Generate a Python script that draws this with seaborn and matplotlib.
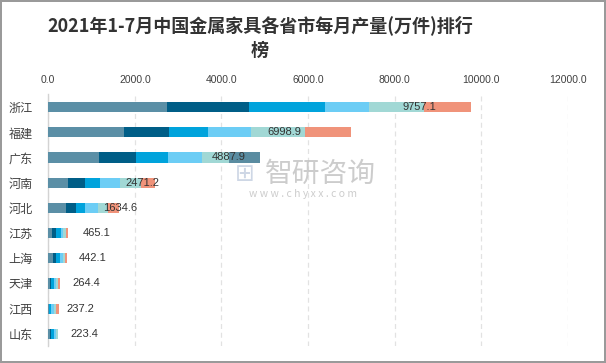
import numpy as np
import pandas as pd
import matplotlib
matplotlib.use("Agg")
import matplotlib.pyplot as plt
import seaborn as sns

# ---------------- data ----------------
provinces = ["浙江", "福建", "广东", "河南", "河北", "江苏", "上海", "天津", "江西", "山东"]
series_names = ["1-2月", "3月", "4月", "5月", "6月", "7月", "其他"]
s1 = [2732, 1740, 1170, 455, 408, 95, 108, 30, 8, 30]
s2 = [1900, 1046, 854, 392, 224, 90, 69, 38, 15, 38]
s3 = [1754, 892, 738, 346, 215, 100, 85, 54, 45, 55]
s4 = [1015, 1000, 778, 462, 300, 65, 77, 46, 55, 45]
s5 = [1270, 1262, 637, 485, 231, 48, 54, 46, 54, 55.4]
s6 = [1086.1, 1058.9, 0, 331.2, 256.6, 67.1, 49.1, 50.4, 60.2, 0]
s7 = [0, 0, 710.9, 0, 0, 0, 0, 0, 0, 0]
totals = [9757.1, 6998.9, 4887.9, 2471.2, 1634.6, 465.1, 442.1, 264.4, 237.2, 223.4]
label_x = [8570, 5440, 4170, 2163, 1670, 1108, 1016, 877, 747, 835]
xticks = [0, 2000, 4000, 6000, 8000, 10000, 12000]
title = "2021年1-7月中国金属家具各省市每月产量(万件)排行\n榜"

colors = ["#5B8FA6", "#005E87", "#00A3DC", "#6CCDF5", "#A1D8D5", "#F0937A", "#5A8CA1"]

# ---------------- figure ----------------
sns.set_style("white")
plt.rcParams["font.family"] = ["Noto Sans CJK SC", "DejaVu Sans"]

fig = plt.figure(figsize=(6.06, 3.63), dpi=100, edgecolor="#9A9A9A", linewidth=1.5)
ax = fig.add_axes([0.0797, 0.0455, 0.8573, 0.6942])

series = [s1, s2, s3, s4, s5, s6, s7]
cum = np.cumsum(np.array(series, dtype=float), axis=0)
df = pd.DataFrame({"省份": provinces})
for k in range(len(series) - 1, -1, -1):
    df["v"] = cum[k]
    sns.barplot(data=df, y="省份", x="v", orient="h", color=colors[k],
                width=0.4, saturation=1, ax=ax, order=provinces, zorder=3,
                linewidth=0, edgecolor="none")

for i, (lx, t) in enumerate(zip(label_x, totals)):
    ax.text(lx, i, f"{t:.1f}", ha="center", va="center", fontsize=8,
            color="#333333", family=["Liberation Sans", "DejaVu Sans"], zorder=5)

ax.set_xlim(0, 12000)
ax.set_ylim(len(provinces) - 0.5, -0.5)
ax.xaxis.tick_top()
ax.set_xticks(xticks)
ax.set_xticklabels([f"{v:.1f}" for v in xticks], family=["Liberation Sans", "DejaVu Sans"],
                   fontsize=7.5, color="#404040")
ax.tick_params(axis="x", length=0, pad=7)
ax.tick_params(axis="y", length=0, pad=11, labelsize=8.7, labelcolor="#404040")
ax.set_xlabel("")
ax.set_ylabel("")
ax.grid(axis="x", color="#E2E2E2", linestyle=(0, (4, 3)), linewidth=0.9, zorder=0)
ax.set_axisbelow(True)
for side in ["top", "right", "bottom"]:
    ax.spines[side].set_visible(False)
ax.spines["left"].set_color("#D3D3D3")
ax.spines["left"].set_linewidth(1.0)

fig.text(0.429, 0.897, title, ha="center", va="center", fontsize=13, fontweight="bold",
         color="#333333", linespacing=1.4)

# watermark
fig.text(0.528, 0.52, "智研咨询", ha="center", va="center", fontsize=20,
         color="#C4C4C4", alpha=0.85, zorder=10)
fig.text(0.5, 0.466, "w w w . c h y x x . c o m", ha="center", va="center", fontsize=7.5,
         color="#C4C4C4", alpha=0.85, zorder=10)
fig.text(0.404, 0.52, "⊞", ha="center", va="center", fontsize=17,
         color="#C9D3E3", alpha=0.9, zorder=10, family="DejaVu Sans")

fig.savefig("out.png", dpi=100, edgecolor=fig.get_edgecolor())
